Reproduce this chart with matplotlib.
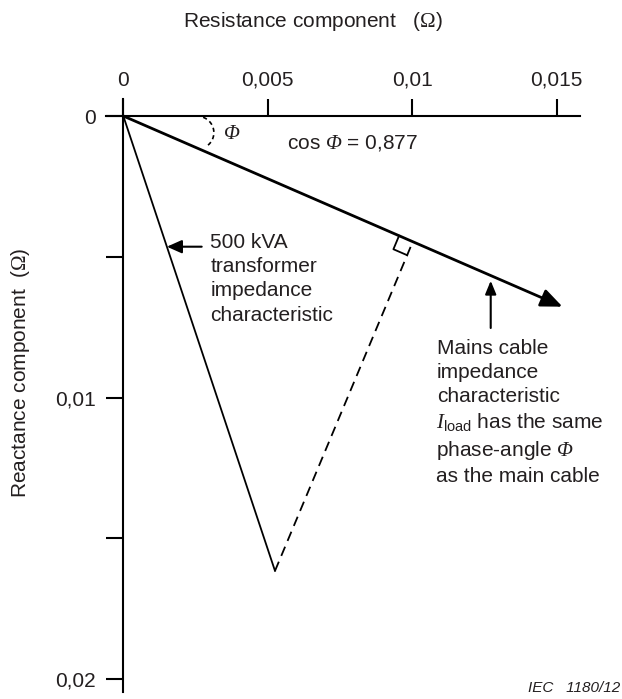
import numpy as np
import matplotlib
matplotlib.use("Agg")
from matplotlib import pyplot as plt

plt.rcParams['font.family'] = ['Liberation Sans', 'DejaVu Sans']
plt.rcParams['mathtext.fontset'] = 'custom'
plt.rcParams['mathtext.rm'] = 'Liberation Serif:italic'
plt.rcParams['mathtext.it'] = 'Liberation Serif:italic'
plt.rcParams['mathtext.tt'] = 'Liberation Serif'
plt.rcParams['mathtext.sf'] = 'Liberation Sans'

TXT = '#231f20'

# axes ticks (ohm)
x_ticks = [0, 0.005, 0.01, 0.015]
x_ticklabels = ['0', '0,005', '0,01', '0,015']
y_ticks = [0, 0.005, 0.01, 0.015, 0.02]
y_ticklabels = ['0', '', '0,01', '', '0,02']

# impedance characteristics (R, X) in ohm
cable_R = [0, 0.0152]
cable_X = [0, 0.00677]
trafo_R = [0, 0.00525]
trafo_X = [0, 0.01615]
perp_R = [0.00525, 0.01002]
perp_X = [0.01615, 0.00446]

fig = plt.figure(figsize=(6.22, 6.99), dpi=100)
ax = fig.add_axes([106/622, 7.3/699, 473.5/622, 592.7/699])
ax.patch.set_visible(False)
ax.set_xlim(-0.000599, 0.015789)
ax.set_ylim(0.02044, -0.000604)

for s in ['right', 'bottom']:
    ax.spines[s].set_visible(False)
ax.spines['left'].set_position(('data', 0))
ax.spines['top'].set_position(('data', 0))
for s in ['left', 'top']:
    ax.spines[s].set_linewidth(1.5)
ax.xaxis.set_ticks_position('top')
ax.yaxis.set_ticks_position('left')
ax.set_xticks(x_ticks, x_ticklabels)
ax.set_yticks(y_ticks, y_ticklabels)
ax.tick_params(length=12, width=1.5, labelsize=15, color='black', labelcolor=TXT)
ax.tick_params(axis='x', pad=7)
ax.tick_params(axis='y', pad=8)

# axis titles
ax.xaxis.set_label_position('top')
ax.set_xlabel('Resistance component   ($\\mathtt{\\Omega}$)', fontsize=15, color=TXT,
              ha='left', va='baseline')
ax.xaxis.set_label_coords(0.1633, 1.121)
ax.set_ylabel('Reactance component  ($\\mathtt{\\Omega}$)', fontsize=15, color=TXT,
              ha='center', va='center')
ax.yaxis.set_label_coords(-0.1816, 0.5377)

# lines
ax.plot(trafo_R, trafo_X, color='black', lw=1.3, clip_on=False)
ax.plot(perp_R, perp_X, color='black', lw=1.3, ls=(0, (5.5, 3.5)), clip_on=False)
ax.annotate('', xy=(cable_R[1], cable_X[1]), xytext=(cable_R[0], cable_X[0]),
            annotation_clip=False,
            arrowprops=dict(arrowstyle='-|>,head_length=1.3,head_width=0.55',
                            mutation_scale=10, lw=2.0, color='black',
                            shrinkA=0, shrinkB=0))

# right angle marker at the foot of the dashed line
F = np.array([perp_R[1], perp_X[1]])
u1 = -F / np.hypot(*F)
u2 = np.array([perp_R[0], perp_X[0]]) - F
u2 = u2 / np.hypot(*u2)
sz = 0.00052
sq = np.array([F + sz*u1, F + sz*(u1 + u2), F + sz*u2])
ax.plot(sq[:, 0], sq[:, 1], color='black', lw=1.3)

# angle arc
t = np.radians(np.linspace(-70, 50, 40))
ax.plot(0.00257 + 0.000564*np.cos(t), 0.00059 + 0.000579*np.sin(t),
        color='black', lw=1.2, ls=(0, (2.5, 2)))
ax.text(0.00346, 0.00083, '$\\Phi$', fontsize=15, color=TXT, va='baseline')
ax.text(0.005654, 0.001147, 'cos $\\Phi$ = 0,877', fontsize=15, color=TXT, va='baseline')

# transformer label (va='baseline' -> last line)
ax.annotate('', xy=(0.001508, 0.00464), xytext=(0.002713, 0.00464),
            arrowprops=dict(arrowstyle='-|>,head_length=0.9,head_width=0.4',
                            mutation_scale=10, lw=1.5, color='black',
                            shrinkA=0, shrinkB=0))
ax.text(0.003007, 0.007264, '500 kVA\ntransformer\nimpedance\ncharacteristic',
        fontsize=15, color=TXT, ha='left', va='baseline', linespacing=1.35)

# cable label
ax.annotate('', xy=(0.012716, 0.00585), xytext=(0.012716, 0.007527),
            arrowprops=dict(arrowstyle='-|>,head_length=0.8,head_width=0.33',
                            mutation_scale=10, lw=1.5, color='black',
                            shrinkA=0, shrinkB=0))
ax.text(0.010847, 0.010155, 'Mains cable\nimpedance\ncharacteristic',
        fontsize=15, color=TXT, ha='left', va='baseline', linespacing=1.35)
ax.text(0.01083, 0.013002,
        '$I_{\\mathsf{load}}$ has the same\nphase-angle $\\Phi$\nas the main cable',
        fontsize=15, color=TXT, ha='left', va='baseline', linespacing=1.35)

fig.text(620.7/622, 1 - 691.7/699, 'IEC   1180/12', fontsize=11, style='italic',
         color=TXT, ha='right', va='baseline')

fig.savefig('out.png', dpi=100)
